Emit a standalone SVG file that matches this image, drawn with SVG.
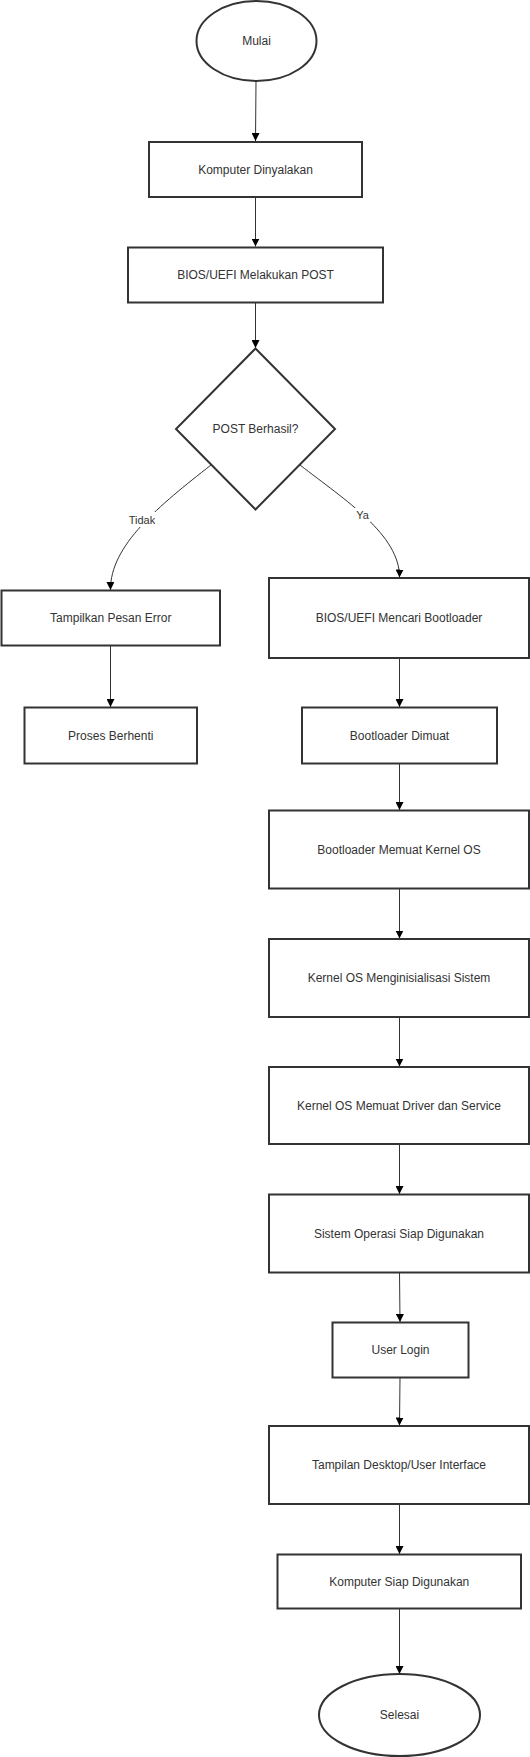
<svg xmlns="http://www.w3.org/2000/svg" width="530" height="1757" viewBox="0 0 530 1757">
<style>
.n{fill:#fff;stroke:#333;stroke-width:2}
.t{font-family:"Liberation Sans",Arial,sans-serif;font-size:12px;fill:#333;text-anchor:middle;dominant-baseline:central}
.e{fill:none;stroke:#333;stroke-width:1}
.lb{fill:#fff}
.lt{font-family:"Liberation Sans",Arial,sans-serif;font-size:11px;fill:#333;text-anchor:middle;dominant-baseline:central}
</style>
<defs>
<marker id="ah" viewBox="0 0 10 10" refX="10" refY="5" markerWidth="8" markerHeight="8" markerUnits="userSpaceOnUse" orient="auto">
<path d="M0,0 L10,5 L0,10 z" fill="#000"/>
</marker>
</defs>
<rect width="530" height="1757" fill="#fff"/>
<g id="connectors">
<path class="e" d="M256,81 L255.5,141" marker-end="url(#ah)"/>
<path class="e" d="M255.5,197.5 L255.5,246.5" marker-end="url(#ah)"/>
<path class="e" d="M255.5,302.5 L255.5,348" marker-end="url(#ah)"/>
<path class="e" d="M211,465 C160,505 110,545 110.5,590" marker-end="url(#ah)"/>
<path class="e" d="M300,465 C345,500 400,535 399.5,577.5" marker-end="url(#ah)"/>
<path class="e" d="M110.5,645.5 L110.5,707" marker-end="url(#ah)"/>
<path class="e" d="M399.5,658 L399.5,707" marker-end="url(#ah)"/>
<path class="e" d="M399.5,763.5 L399.5,810" marker-end="url(#ah)"/>
<path class="e" d="M399.5,888.5 L399.5,938.5" marker-end="url(#ah)"/>
<path class="e" d="M399.5,1017 L399.5,1066.5" marker-end="url(#ah)"/>
<path class="e" d="M399.5,1144 L399.5,1194" marker-end="url(#ah)"/>
<path class="e" d="M399.5,1272.5 L400,1322" marker-end="url(#ah)"/>
<path class="e" d="M400,1377.5 L399.5,1425.5" marker-end="url(#ah)"/>
<path class="e" d="M399.5,1504 L399.5,1554" marker-end="url(#ah)"/>
<path class="e" d="M399.5,1608.5 L399.5,1674" marker-end="url(#ah)"/>
<rect class="lb" x="127" y="512" width="30" height="15"/>
<text class="lt" x="142" y="519.5">Tidak</text>
<rect class="lb" x="355" y="508" width="15" height="15"/>
<text class="lt" x="362.5" y="515">Ya</text>
</g>
<g id="mulai"><ellipse class="n" cx="256.5" cy="41" rx="60" ry="40"/><text class="t" x="256.5" y="41">Mulai</text></g>
<g id="komputer-dinyalakan"><rect class="n" x="149" y="142" width="213" height="55"/><text class="t" x="255.5" y="169.5">Komputer Dinyalakan</text></g>
<g id="post"><rect class="n" x="128" y="247.5" width="255" height="55"/><text class="t" x="255.5" y="275">BIOS/UEFI Melakukan POST</text></g>
<g id="decision"><polygon class="n" points="255.5,348.5 335,429 255.5,509.5 176,429"/><text class="t" x="255.5" y="429">POST Berhasil?</text></g>
<g id="error"><rect class="n" x="1.5" y="590.5" width="218.5" height="55"/><text class="t" x="110.75" y="618">Tampilkan Pesan Error</text></g>
<g id="berhenti"><rect class="n" x="24.5" y="707.5" width="172.5" height="56"/><text class="t" x="110.75" y="735.5">Proses Berhenti</text></g>
<g id="mencari"><rect class="n" x="269" y="578" width="260" height="80"/><text class="t" x="399" y="618">BIOS/UEFI Mencari Bootloader</text></g>
<g id="dimuat"><rect class="n" x="302" y="707.5" width="195" height="56"/><text class="t" x="399.5" y="735.5">Bootloader Dimuat</text></g>
<g id="memuat-kernel"><rect class="n" x="269" y="810.5" width="260" height="78"/><text class="t" x="399" y="849.5">Bootloader Memuat Kernel OS</text></g>
<g id="init"><rect class="n" x="269" y="939" width="260" height="78"/><text class="t" x="399" y="978">Kernel OS Menginisialisasi Sistem</text></g>
<g id="driver"><rect class="n" x="269" y="1067" width="260" height="77"/><text class="t" x="399" y="1105.5">Kernel OS Memuat Driver dan Service</text></g>
<g id="siap-os"><rect class="n" x="269" y="1194.5" width="260" height="78"/><text class="t" x="399" y="1233.5">Sistem Operasi Siap Digunakan</text></g>
<g id="login"><rect class="n" x="332.5" y="1322.5" width="136" height="55"/><text class="t" x="400.5" y="1350">User Login</text></g>
<g id="desktop"><rect class="n" x="269" y="1426" width="260" height="78"/><text class="t" x="399" y="1465">Tampilan Desktop/User Interface</text></g>
<g id="siap"><rect class="n" x="277.5" y="1554.5" width="243.5" height="54"/><text class="t" x="399.25" y="1581.5">Komputer Siap Digunakan</text></g>
<g id="selesai"><ellipse class="n" cx="399.5" cy="1715" rx="80.5" ry="41"/><text class="t" x="399.5" y="1715">Selesai</text></g>
</svg>
